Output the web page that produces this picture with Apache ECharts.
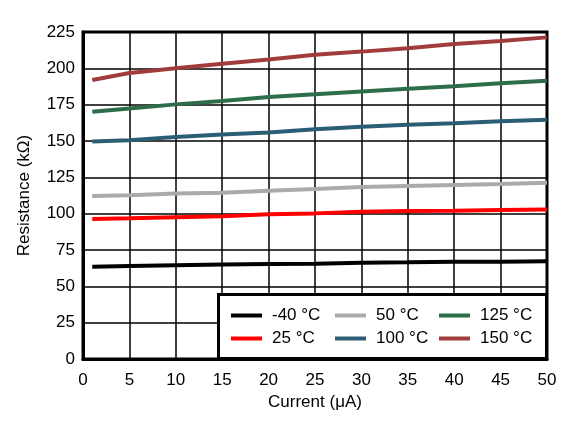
<!DOCTYPE html>
<html>
<head>
<meta charset="utf-8">
<script src="https://cdn.jsdelivr.net/npm/echarts@6/dist/echarts.min.js"></script>
<style>html,body{margin:0;padding:0;background:#fff;}#c{width:576px;height:425px;}</style>
</head>
<body>
<div id="c"></div>
<script>
const currents = [1, 5, 10, 15, 20, 25, 30, 35, 40, 45, 50];
const seriesNames = ['-40 °C', '25 °C', '50 °C', '100 °C', '125 °C', '150 °C'];
const rM40 = [63.5, 64, 64.5, 65, 65.3, 65.6, 66.2, 66.5, 67, 67, 67.2];
const r25 = [96.3, 96.8, 97.5, 98.2, 99.6, 100.2, 101.4, 101.9, 102, 102.6, 102.8];
const r50 = [112.2, 112.6, 113.9, 114.4, 115.7, 116.9, 118.4, 119.1, 119.8, 120.4, 121.3];
const r100 = [149.6, 150.6, 152.8, 154.4, 155.9, 158.1, 159.8, 161.2, 162.2, 163.6, 164.7];
const r125 = [170.2, 172.4, 175.2, 177.5, 180.3, 182.1, 184.1, 186, 187.7, 189.7, 191.5];
const r150 = [192, 196.8, 200, 203.2, 206, 209.4, 211.5, 213.8, 216.8, 218.8, 221.3];
const legendOrder = ['-40 °C', '50 °C', '125 °C', '25 °C', '100 °C', '150 °C'];
const colors = ['#000000', '#ff0000', '#aaaaaa', '#2b5d75', '#2d6d4a', '#a23c3c'];
const values = [rM40, r25, r50, r100, r125, r150];

const FONT = 'Liberation Sans, Arial, sans-serif';
const chart = echarts.init(document.getElementById('c'));
chart.setOption({
  animation: false,
  backgroundColor: '#fff',
  grid: { left: 83, right: 29, top: 32, bottom: 66, show: true, borderColor: '#000', borderWidth: 3, backgroundColor: 'transparent' },
  xAxis: {
    type: 'value', min: 0, max: 50, interval: 5,
    name: 'Current (\u03bcA)', nameLocation: 'middle', nameGap: 34,
    nameTextStyle: { fontFamily: FONT, fontSize: 17, color: '#000' },
    axisLine: { show: true, lineStyle: { color: '#000', width: 3 } },
    axisTick: { show: false },
    axisLabel: { fontFamily: FONT, fontSize: 17, color: '#000', margin: 13 },
    splitLine: { show: true, lineStyle: { color: '#000', width: 1.5 } }
  },
  yAxis: {
    type: 'value', min: 0, max: 225, interval: 25,
    name: 'Resistance (k\u03a9)', nameLocation: 'middle', nameGap: 50,
    nameTextStyle: { fontFamily: FONT, fontSize: 17, color: '#000' },
    axisLine: { show: true, lineStyle: { color: '#000', width: 3 } },
    axisTick: { show: false },
    axisLabel: { fontFamily: FONT, fontSize: 17, color: '#000', margin: 8 },
    splitLine: { show: true, lineStyle: { color: '#000', width: 1.5 } }
  },
  legend: {
    data: legendOrder,
    left: 231, top: 307, width: 310,
    orient: 'horizontal',
    icon: 'rect', itemWidth: 31, itemHeight: 4, itemGap: 6,
    padding: 0, z: 20,
    textStyle: { fontFamily: FONT, fontSize: 17, color: '#000', width: 57, lineHeight: 17, padding: [0, 0, 0, 5] }
  },
  graphic: [{
    type: 'rect', z: 10, zlevel: 0,
    shape: { x: 218.5, y: 294.5, width: 328, height: 64 },
    style: { fill: '#fff', stroke: '#000', lineWidth: 3 }
  }],
  series: seriesNames.map((n, i) => ({
    name: n, type: 'line', symbol: 'none', z: 2,
    color: colors[i],
    lineStyle: { color: colors[i], width: 4 },
    data: currents.map((x, j) => [x, values[i][j]])
  }))
});
</script>
</body>
</html>
